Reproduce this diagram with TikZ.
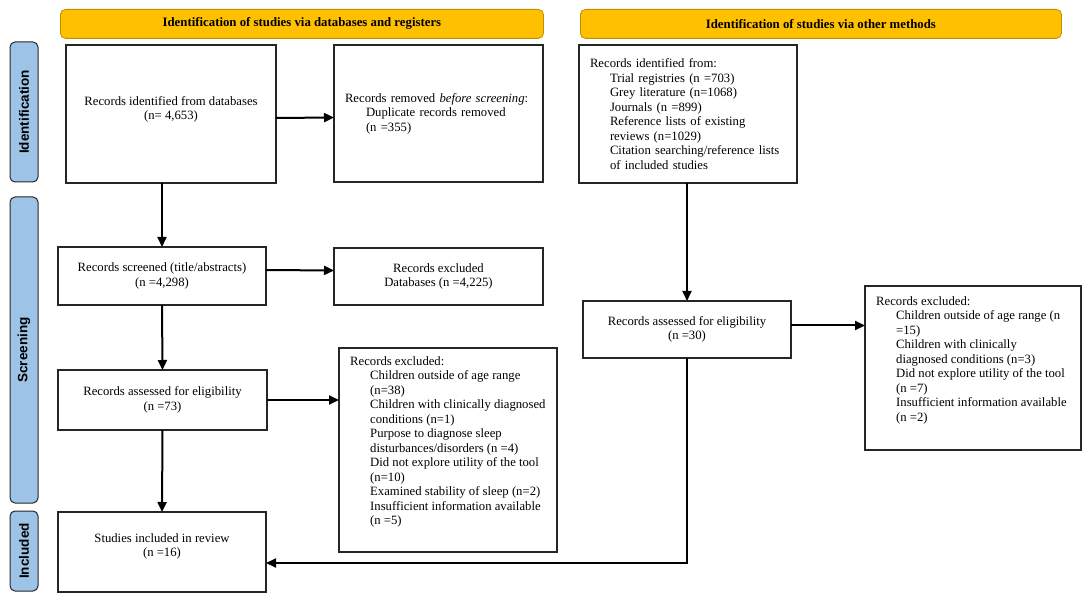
\documentclass[tikz,border=0pt]{standalone}
\usepackage{fontspec}
\setmainfont{Liberation Serif}
\newfontfamily\labfont{Liberation Sans}
\usetikzlibrary{arrows.meta}
\definecolor{hdrfill}{HTML}{FFC000}
\definecolor{hdrline}{HTML}{BF9000}
\definecolor{sidefill}{HTML}{9DC3E6}
\definecolor{boxline}{HTML}{262626}
\begin{document}
\begin{tikzpicture}[x=1pt,y=1pt,
  box/.style={draw=boxline, line width=1.2pt, fill=white, inner sep=0pt, outer sep=0pt, anchor=north west, font=\fontsize{12.7}{14.5}\selectfont},
  cbox/.style={box, align=center},
  lbox/.style={box, inner xsep=11pt, align=left},
  hdr/.style={draw=hdrline, line width=0.8pt, fill=hdrfill, rounded corners=5pt, inner sep=0pt, anchor=north west, font=\bfseries\fontsize{12.8}{14}\selectfont},
  side/.style={draw=boxline, line width=1pt, fill=sidefill, rounded corners=5pt, rotate=90, inner sep=0pt, font=\labfont\bfseries\fontsize{13.5}{15}\selectfont},
  ltxt/.style={inner sep=0pt, anchor=north west, align=left, font=\fontsize{12.7}{14.5}\selectfont},
  arr/.style={line width=2pt, -{Triangle[length=10pt,width=9pt]}}
]
\useasboundingbox (0,0) rectangle (1084,-601);
\fill[white] (0,0) rectangle (1084,-601);
% headers
\node[hdr, minimum width=483, minimum height=29] (h1) at (60,-9) {Identification of studies via databases and registers};
\node[hdr, minimum width=481, minimum height=29] (h2) at (580,-9) {Identification of studies via other methods};
% side labels
\node[side, minimum width=140, minimum height=28] (s1) at (24,-112) {Identification};
\node[side, minimum width=306, minimum height=28] (s2) at (24,-350) {Screening};
\node[side, minimum width=80, minimum height=28] (s3) at (24,-551) {Included};
% left column
\node[cbox, minimum width=210, minimum height=138] (db) at (66,-45) {Records identified from databases\\(n= 4,653)\\[-3pt]};
\node[lbox, minimum width=209, minimum height=137, text width=187pt] (rem) at (334,-45) {Records removed \textit{before screening}:\\\hspace*{21pt}Duplicate records removed\\\hspace*{21pt}(n =355)};
\node[cbox, minimum width=208, minimum height=58] (scr) at (58,-247) {Records screened (title/abstracts)\\(n =4,298)};
\node[cbox, minimum width=209, minimum height=57] (ex1) at (334,-248) {Records excluded\\Databases (n =4,225)};
\node[cbox, minimum width=209, minimum height=60] (el1) at (58,-370) {Records assessed for eligibility\\(n =73)};
\node[box, minimum width=218, minimum height=204] (ex2) at (339,-348) {};
\node[ltxt] (ex2t) at (350,-356) {Records excluded:\\
\hspace*{20pt}Children outside of age range\\
\hspace*{20pt}(n=38)\\
\hspace*{20pt}Children with clinically diagnosed\\
\hspace*{20pt}conditions (n=1)\\
\hspace*{20pt}Purpose to diagnose sleep\\
\hspace*{20pt}disturbances/disorders (n =4)\\
\hspace*{20pt}Did not explore utility of the tool\\
\hspace*{20pt}(n=10)\\
\hspace*{20pt}Examined stability of sleep (n=2)\\
\hspace*{20pt}Insufficient information available\\
\hspace*{20pt}(n =5)};
\node[cbox, minimum width=208, minimum height=80] (inc) at (58,-512) {Studies included in review\\(n =16)\\[-1pt]};
% right column
\node[lbox, minimum width=218, minimum height=138, text width=196pt] (oth) at (579,-45) {Records identified from:\\
\hspace*{20pt}Trial registries (n =703)\\
\hspace*{20pt}Grey literature (n=1068)\\
\hspace*{20pt}Journals (n =899)\\
\hspace*{20pt}Reference lists of existing\\
\hspace*{20pt}reviews (n=1029)\\
\hspace*{20pt}Citation searching/reference lists\\
\hspace*{20pt}of included studies};
\node[cbox, minimum width=208, minimum height=57] (el2) at (583,-301) {Records assessed for eligibility\\(n =30)};
\node[box, minimum width=216, minimum height=164] (ex3) at (865,-286) {};
\node[ltxt] (ex3t) at (876,-296) {Records excluded:\\
\hspace*{20pt}Children outside of age range (n\\
\hspace*{20pt}=15)\\
\hspace*{20pt}Children with clinically\\
\hspace*{20pt}diagnosed conditions (n=3)\\
\hspace*{20pt}Did not explore utility of the tool\\
\hspace*{20pt}(n =7)\\
\hspace*{20pt}Insufficient information available\\
\hspace*{20pt}(n =2)};
% connectors
\draw[arr] ([yshift=-4pt]db.east) -- ([yshift=-4pt]rem.west);
\draw[arr] (scr.north |- db.south) -- (scr.north);
\draw[arr] ([yshift=6pt]scr.east) -- ([yshift=6pt]ex1.west);
\draw[arr] (scr.south) -- (el1.north);
\draw[arr] (el1.east) -- (el1.east -| ex2.west);
\draw[arr] (el1.south) -- (inc.north);
\draw[arr] (el2.north |- oth.south) -- (el2.north);
\draw[arr] ([yshift=4pt]el2.east) -- ([yshift=4pt]el2.east -| ex3.west);
\coordinate (turn) at (688,-563);
\draw[arr] (el2.south) -- (el2.south |- turn) -- (turn -| inc.east);
\end{tikzpicture}
\end{document}
